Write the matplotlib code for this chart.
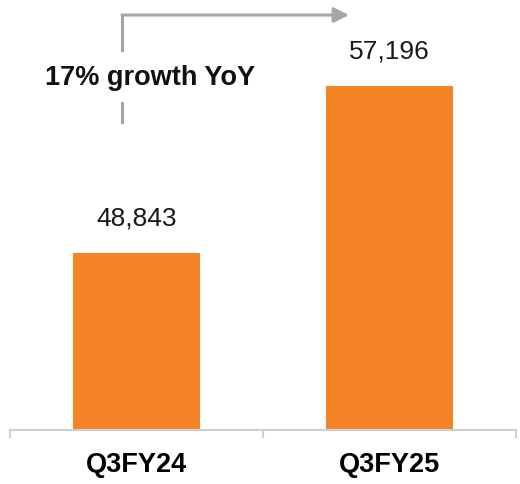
import matplotlib
matplotlib.use("Agg")
import matplotlib.pyplot as plt

categories = ["Q3FY24", "Q3FY25"]
values = [48843, 57196]
value_labels = ["48,843", "57,196"]
growth_label = "17% growth YoY"

plt.rcParams['font.family'] = ['Liberation Sans', 'DejaVu Sans']

W, H = 520, 484
fig = plt.figure(figsize=(W/100, H/100), dpi=100)
ax = fig.add_axes([10/W, (H-430)/H, 506/W, 430/H])

bar_color = "#F58426"
x = range(len(categories))
ax.bar(x, values, width=0.5, color=bar_color, zorder=2)
ax.set_xlim(-0.5, 1.5)
ax.set_ylim(39990, 61500)

for xi, v, lab in zip(x, values, value_labels):
    ax.annotate(lab, (xi, v), xytext=(0, 16), textcoords="offset points",
                ha="center", va="bottom", fontsize=19, color="#1a1a1a")

for s in ["top", "right", "left"]:
    ax.spines[s].set_visible(False)
ax.spines["bottom"].set_color("#d0d0d0")
ax.spines["bottom"].set_linewidth(1.5)
ax.set_yticks([])
ax.set_xticks([-0.5, 0.5, 1.5])
ax.set_xticklabels([])
ax.tick_params(axis="x", length=6, width=1.5, color="#d0d0d0")
ax.set_xticks(list(x), minor=True)
ax.set_xticklabels(categories, minor=True, fontsize=19.5, fontweight="bold")
ax.tick_params(axis="x", which="minor", length=0, pad=16)

# growth arrow (figure pixel coords)
gray = "#a6a6a6"
def fx(px): return px / W
def fy(py): return 1 - py / H
fig.add_artist(plt.Line2D([fx(122), fx(122)], [fy(50), fy(15)], color=gray, lw=2.2))
fig.add_artist(plt.Line2D([fx(122), fx(122)], [fy(103), fy(122)], color=gray, lw=2.2))
ax.annotate("", xy=(fx(349), fy(15)), xytext=(fx(122), fy(15)),
            xycoords="figure fraction", textcoords="figure fraction",
            arrowprops=dict(arrowstyle="-|>,head_length=0.9,head_width=0.45",
                            color=gray, lw=2.2, shrinkA=0, shrinkB=0))
fig.text(fx(150), fy(78), growth_label, ha="center", va="center",
         fontsize=19.5, fontweight="bold", color="#111111")

fig.savefig("out.png", dpi=100)
